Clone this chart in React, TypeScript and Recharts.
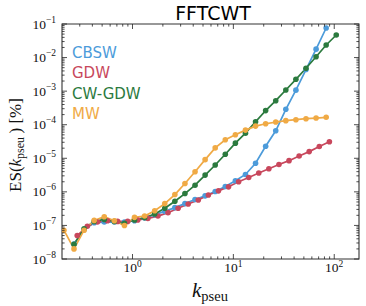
import React from 'react';
import { ComposedChart, Line, XAxis, YAxis, ReferenceArea } from 'recharts';

// k grids (log-spaced wavenumbers)
const kMain = [
  0.2089, 0.263, 0.3311, 0.4169, 0.5248, 0.6607, 0.8318, 1.0471, 1.3183, 1.6596,
  2.0893, 2.6303, 3.3113, 4.1687, 5.2481, 6.6069, 8.3176, 10.471, 13.183, 16.596,
  20.893, 26.303, 33.113, 41.687, 52.481, 66.069, 83.176, 104.71,
];
const kGDW = [
  0.2831, 0.3565, 0.4487, 0.5649, 0.7112, 0.8954, 1.1272, 1.4191, 1.7865, 2.2491,
  2.8314, 3.5645, 4.4875, 5.6494, 7.1121, 8.9536, 11.272, 14.191, 17.865, 22.491,
  28.314, 35.645, 44.875, 56.494, 71.121, 89.536,
];

// series values (ES in %)
const esCBSW = [
  2.8e-8, 7.6e-8, 1.2e-7, 1.26e-7, 1.26e-7, 1.26e-7, 1.38e-7, 1.66e-7, 2.09e-7, 2.63e-7,
  3.39e-7, 4.47e-7, 5.9e-7, 7.6e-7, 1.02e-6, 1.45e-6, 2.14e-6, 3.3e-6, 7.1e-6, 2.29e-5,
  6.6e-5, 2.88e-4, 1.07e-3, 4.4e-3, 1.78e-2, 7.6e-2,
];
const esGDW = [
  5.0e-8, 9.5e-8, 1.26e-7, 1.38e-7, 1.32e-7, 1.32e-7, 1.45e-7, 1.62e-7, 1.9e-7, 2.4e-7,
  3.24e-7, 4.37e-7, 5.75e-7, 8.1e-7, 1.07e-6, 1.41e-6, 2.0e-6, 2.69e-6, 3.63e-6, 4.9e-6,
  6.5e-6, 8.5e-6, 1.17e-5, 1.58e-5, 2.24e-5, 3.1e-5,
];
const esCWGDW = [
  2.75e-8, 7.9e-8, 1.32e-7, 1.51e-7, 1.32e-7, 1.15e-7, 1.45e-7, 1.7e-7, 2.19e-7, 3.24e-7,
  5.25e-7, 8.9e-7, 1.58e-6, 3.16e-6, 6.3e-6, 1.32e-5, 2.82e-5, 5.6e-5, 1.23e-4, 2.63e-4,
  5.2e-4, 1.08e-3, 2.25e-3, 4.8e-3, 1.06e-2, 2.37e-2, 4.7e-2,
];
const esMW = [
  7.2e-8, 2.0e-8, 7.2e-8, 1.41e-7, 1.82e-7, 1.38e-7, 1.0e-7, 1.74e-7, 1.9e-7, 2.75e-7,
  4.47e-7, 8.3e-7, 1.78e-6, 3.98e-6, 9.1e-6, 2.04e-5, 3.55e-5, 5.0e-5, 6.9e-5, 9.1e-5,
  1.07e-4, 1.2e-4, 1.32e-4, 1.41e-4, 1.51e-4, 1.58e-4, 1.66e-4,
];

const seriesNames = ['CBSW', 'GDW', 'CW-GDW', 'MW'];
const seriesColors = ['#4C9BDA', '#C8475C', '#2B7A3E', '#F0AA45'];

const xTicks = [
  0.3, 0.4, 0.5, 0.6, 0.7, 0.8, 0.9, 1, 2, 3, 4, 5, 6, 7, 8, 9, 10,
  20, 30, 40, 50, 60, 70, 80, 90, 100,
];
const yTicks = [
  1e-8, 2e-8, 3e-8, 4e-8, 5e-8, 6e-8, 7e-8, 8e-8, 9e-8,
  1e-7, 2e-7, 3e-7, 4e-7, 5e-7, 6e-7, 7e-7, 8e-7, 9e-7,
  1e-6, 2e-6, 3e-6, 4e-6, 5e-6, 6e-6, 7e-6, 8e-6, 9e-6,
  1e-5, 2e-5, 3e-5, 4e-5, 5e-5, 6e-5, 7e-5, 8e-5, 9e-5,
  1e-4, 2e-4, 3e-4, 4e-4, 5e-4, 6e-4, 7e-4, 8e-4, 9e-4,
  1e-3, 2e-3, 3e-3, 4e-3, 5e-3, 6e-3, 7e-3, 8e-3, 9e-3,
  1e-2, 2e-2, 3e-2, 4e-2, 5e-2, 6e-2, 7e-2, 8e-2, 9e-2,
  1e-1,
];

const toPts = (xs: number[], ys: number[]) => ys.map((y, i) => ({ k: xs[i], es: y }));
const dataCBSW = toPts(kMain.slice(1), esCBSW);
const dataGDW = toPts(kGDW, esGDW);
const dataCWGDW = toPts(kMain.slice(1), esCWGDW);
const dataMW = toPts(kMain, esMW);
const allData = [dataCBSW, dataGDW, dataCWGDW, dataMW];

const W = 366;
const H = 306;
const M = { top: 24, right: 7, bottom: 0, left: 0 };
const YW = 62;
const XH = 47;
const PLOT_W = W - M.left - M.right - YW;
const PLOT_H = H - M.top - M.bottom - XH;

const SERIF = "'Liberation Serif', 'DejaVu Serif', serif";
const SANS = "'DejaVu Sans', sans-serif";
const TICK = '#222';

const exponent = (v: number) => Math.round(Math.log10(v));
const isMajor = (v: number) => Math.abs(Math.log10(v) - Math.round(Math.log10(v))) < 1e-6;
const fmtExp = (e: number) => (e < 0 ? '\u2212' + String(-e) : String(e));

const XTick = (props: any) => {
  const { x, y, payload } = props;
  const v = payload.value;
  const major = isMajor(v);
  const len = major ? 5 : 2.6;
  return (
    <g>
      <line x1={x} x2={x} y1={y} y2={y - len} stroke={TICK} strokeWidth={0.8} />
      <line x1={x} x2={x} y1={y - PLOT_H} y2={y - PLOT_H + len} stroke={TICK} strokeWidth={0.8} />
      {major && (
        <text x={x} y={y + 12.5} textAnchor="middle" fontFamily={SERIF} fontSize={13.5} fill="#111">
          <tspan>10</tspan>
          <tspan dy={-5} fontSize={9.5}>{fmtExp(exponent(v))}</tspan>
        </text>
      )}
    </g>
  );
};

const YTick = (props: any) => {
  const { x, y, payload } = props;
  const v = payload.value;
  const major = isMajor(v);
  const len = major ? 5 : 2.6;
  return (
    <g>
      <line x1={x} x2={x + len} y1={y} y2={y} stroke={TICK} strokeWidth={0.8} />
      <line x1={x + PLOT_W} x2={x + PLOT_W - len} y1={y} y2={y} stroke={TICK} strokeWidth={0.8} />
      {major && (
        <text x={x - 6} y={y + 4.5} textAnchor="end" fontFamily={SERIF} fontSize={13.5} fill="#111">
          <tspan>10</tspan>
          <tspan dy={-6} fontSize={9.5}>{fmtExp(exponent(v))}</tspan>
        </text>
      )}
    </g>
  );
};

export default function App() {
  return (
    <div style={{ position: 'absolute', left: 0, top: 0, width: W, height: H, background: '#fff' }}>
      <ComposedChart width={W} height={H} margin={M}>
        <XAxis
          dataKey="k"
          type="number"
          scale="log"
          domain={[0.2, 176]}
          allowDataOverflow
          ticks={xTicks}
          interval={0}
          tick={<XTick />}
          tickSize={0}
          tickMargin={0}
          tickLine={false}
          axisLine={false}
          height={XH}
        />
        <YAxis
          type="number"
          scale="log"
          domain={[1e-8, 1e-1]}
          allowDataOverflow
          ticks={yTicks}
          interval={0}
          tick={<YTick />}
          tickSize={0}
          tickMargin={0}
          tickLine={false}
          axisLine={false}
          width={YW}
        />
        <ReferenceArea
          x1={0.2}
          x2={176}
          y1={1e-8}
          y2={1e-1}
          fill="none"
          fillOpacity={0}
          stroke="#333"
          strokeWidth={1.1}
          ifOverflow="visible"
        />
        {allData.map((d, i) => (
          <Line
            key={seriesNames[i]}
            data={d}
            dataKey="es"
            name={seriesNames[i]}
            type="linear"
            stroke={seriesColors[i]}
            strokeWidth={1.7}
            dot={{ r: 2.8, fill: seriesColors[i], stroke: 'none' }}
            activeDot={false}
            isAnimationActive={false}
          />
        ))}
      </ComposedChart>
      <svg
        width={W}
        height={H}
        style={{ position: 'absolute', left: 0, top: 0, pointerEvents: 'none' }}
      >
        <text x={213} y={20} textAnchor="middle" fontFamily={SANS} fontSize={19} fill="#000">
          FFTCWT
        </text>
        {seriesNames.map((n, i) => (
          <text key={n} x={72} y={57.5 + i * 20.5} fontFamily={SANS} fontSize={15} fill={seriesColors[i]}>
            {n}
          </text>
        ))}
        <text x={210} y={297} textAnchor="middle" fontFamily={SERIF} fill="#111">
          <tspan fontStyle="italic" fontSize={21}>k</tspan>
          <tspan dy={4} fontSize={14.5}>pseu</tspan>
        </text>
        <text
          x={21}
          y={145}
          textAnchor="middle"
          fontFamily={SERIF}
          fontSize={17}
          fill="#111"
          transform="rotate(-90, 21, 145)"
        >
          <tspan>ES(</tspan>
          <tspan fontStyle="italic">k</tspan>
          <tspan dy={3} fontSize={12}>pseu</tspan>
          <tspan dy={-3}>{'\u2009) [%]'}</tspan>
        </text>
      </svg>
    </div>
  );
}
